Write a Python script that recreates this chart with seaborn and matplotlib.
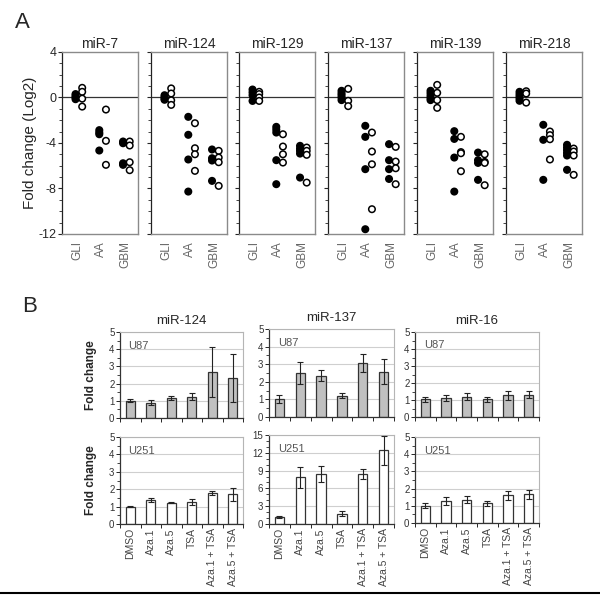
import numpy as np
import pandas as pd
import matplotlib
matplotlib.use('Agg')
import matplotlib.pyplot as plt
from matplotlib.lines import Line2D
from matplotlib.ticker import MultipleLocator
import seaborn as sns

# ---- panel A data (log2 fold change), lists ordered GLI, AA, GBM ----
groups = ['GLI', 'AA', 'GBM']
mirs_a = ['miR-7', 'miR-124', 'miR-129', 'miR-137', 'miR-139', 'miR-218']

mir7_filled = [[0.3, 0.15, 0.0, -0.15], [-2.87, -3.08, -3.23, -4.66], [-3.87, -4.02, -5.78, -5.92]]
mir7_open = [[0.85, 0.5, -0.1, -0.8], [-1.06, -3.81, -5.92], [-3.87, -4.22, -5.69, -6.39]]
mir124_filled = [[0.2, 0.05, -0.1, -0.2], [-1.7, -3.28, -5.45, -8.27], [-4.57, -5.34, -5.54, -7.33]]
mir124_open = [[0.8, 0.35, -0.25, -0.65], [-2.26, -4.46, -4.99, -6.45], [-4.69, -5.28, -5.69, -7.77]]
mir129_filled = [[0.7, 0.45, 0.2, -0.3], [-2.58, -2.82, -3.08, -5.51, -7.62], [-4.25, -4.49, -4.69, -4.93, -7.04]]
mir129_open = [[0.5, 0.3, 0.0, -0.3], [-3.23, -4.31, -4.99, -5.72], [-4.4, -4.69, -5.04, -7.48]]
mir137_filled = [[0.59, 0.38, 0.2, 0.0, -0.23], [-2.49, -3.46, -6.3, -11.58], [-4.1, -5.51, -6.3, -7.16]]
mir137_open = [[0.76, -0.29, -0.76], [-3.08, -4.75, -5.87, -9.82], [-4.34, -5.63, -6.22, -7.62]]
mir139_filled = [[0.59, 0.38, 0.15, -0.06, -0.23], [-2.96, -3.64, -5.28, -8.27], [-4.84, -5.51, -5.75, -7.24]]
mir139_open = [[1.11, 0.41, -0.23, -0.91], [-3.46, -4.8, -4.9, -6.48], [-4.99, -5.66, -5.75, -7.71]]
mir218_filled = [[0.5, 0.29, 0.09, -0.09, -0.29], [-2.4, -3.72, -7.24], [-4.16, -4.4, -4.63, -4.87, -5.1, -6.36]]
mir218_open = [[0.55, 0.35, -0.45], [-2.99, -3.31, -3.67, -5.45], [-4.49, -4.75, -5.1, -6.8]]

filled_a = [mir7_filled, mir124_filled, mir129_filled, mir137_filled, mir139_filled, mir218_filled]
open_a = [mir7_open, mir124_open, mir129_open, mir137_open, mir139_open, mir218_open]

# ---- panel B data (fold change, mean and error) ----
treatments = ['DMSO', 'Aza.1', 'Aza.5', 'TSA', 'Aza.1 + TSA', 'Aza.5 + TSA']
mir124_u87 = [1.0, 0.9, 1.15, 1.25, 2.65, 2.35]
mir124_u87_err = [0.08, 0.12, 0.12, 0.18, 1.45, 1.4]
mir124_u251 = [1.0, 1.38, 1.23, 1.24, 1.77, 1.71]
mir124_u251_err = [0.05, 0.1, 0.05, 0.17, 0.12, 0.38]
mir137_u87 = [1.04, 2.48, 2.35, 1.22, 3.05, 2.58]
mir137_u87_err = [0.22, 0.62, 0.32, 0.13, 0.52, 0.7]
mir137_u251 = [1.15, 7.85, 8.45, 1.75, 8.5, 12.4]
mir137_u251_err = [0.2, 1.7, 1.4, 0.4, 0.85, 2.5]
mir16_u87 = [1.03, 1.13, 1.2, 1.05, 1.27, 1.32]
mir16_u87_err = [0.15, 0.18, 0.22, 0.15, 0.25, 0.23]
mir16_u251 = [1.0, 1.27, 1.35, 1.15, 1.6, 1.66]
mir16_u251_err = [0.15, 0.22, 0.2, 0.15, 0.25, 0.27]

sns.set_style('ticks')
plt.rcParams['font.family'] = ['Liberation Sans', 'DejaVu Sans']
plt.rcParams['axes.unicode_minus'] = False

W, H = 600, 597
fig = plt.figure(figsize=(6, 5.97), dpi=100)


def add_box(l, t, r, b):
    return fig.add_axes([l / W, 1 - b / H, (r - l) / W, (b - t) / H])


# ---------------- panel A ----------------
fig.text(22 / W, 1 - 22 / H, 'A', fontsize=16, ha='center', va='center')
lefts = [62, 151, 239, 328, 417, 506]
off = {'filled': -0.08, 'open': 0.2}
for i, name in enumerate(mirs_a):
    ax = add_box(lefts[i], 52, lefts[i] + 76, 234)
    rows = []
    for kind, data in (('filled', filled_a[i]), ('open', open_a[i])):
        for g, vals in zip(groups, data):
            for v in vals:
                rows.append({'group': g, 'kind': kind, 'value': v})
    df = pd.DataFrame(rows)
    df['x'] = df['group'].map({g: k for k, g in enumerate(groups)}) + df['kind'].map(off)
    ax.axhline(0, color='#333333', lw=0.9, zorder=1)
    sns.scatterplot(data=df, x='x', y='value', hue='kind', palette={'filled': 'black', 'open': 'white'},
                    edgecolor='black', linewidth=1.1, s=22, legend=False, ax=ax, zorder=3)
    ax.set_xlim(-0.65, 2.55)
    ax.set_ylim(-12, 4)
    ax.set_xticks(range(3))
    ax.set_xticklabels(groups, rotation=90, fontsize=8.5, color='#666666')
    ax.tick_params(axis='x', length=0, pad=5)
    ax.yaxis.set_major_locator(MultipleLocator(4))
    ax.yaxis.set_minor_locator(MultipleLocator(1))
    ax.tick_params(axis='y', which='major', length=3, width=0.8, direction='out', labelsize=9, pad=1)
    ax.tick_params(axis='y', which='minor', length=2, width=0.6, direction='out')
    ax.set_xlabel('')
    ax.set_ylabel('')
    for s in ('top', 'right', 'bottom'):
        ax.spines[s].set_color('#8a8a8a')
        ax.spines[s].set_linewidth(1.0)
    ax.spines['left'].set_color('#222222')
    ax.spines['left'].set_linewidth(0.9)
    ax.set_title(name, fontsize=10, pad=3)
    if i == 0:
        ax.set_ylabel('Fold change (Log2)', fontsize=11)
        ax.yaxis.set_label_coords(-0.33, 0.5)
    else:
        ax.set_yticklabels([])

# ---------------- panel B ----------------
fig.text(30 / W, 1 - 307 / H, 'B', fontsize=16, ha='center', va='center')

cols = [
    ('miR-124', (120, 243), (332, 418), (437, 524), mir124_u87, mir124_u87_err, mir124_u251, mir124_u251_err, 5),
    ('miR-137', (269, 394), (329, 417), (435, 524), mir137_u87, mir137_u87_err, mir137_u251, mir137_u251_err, 15),
    ('miR-16', (415, 539), (332, 417), (437, 523), mir16_u87, mir16_u87_err, mir16_u251, mir16_u251_err, 5),
]


def bar_panel(ax, vals, errs, fill, ymax, cell, show_x):
    sns.barplot(x=treatments, y=vals, color=fill, saturation=1, width=0.45,
                edgecolor='#333333', linewidth=0.9, ax=ax, zorder=2)
    ax.errorbar(np.arange(len(treatments)), vals, yerr=errs, fmt='none', ecolor='#222222',
                elinewidth=0.8, capsize=2.5, capthick=0.8, zorder=3)
    ax.set_xlim(-0.5, len(treatments) - 0.5)
    ax.set_ylim(0, ymax)
    step = ymax / 5
    ax.yaxis.set_major_locator(MultipleLocator(step))
    ax.yaxis.set_minor_locator(MultipleLocator(step / 2 if ymax == 5 else 1))
    ax.grid(axis='y', color='#cfcfcf', lw=0.8, zorder=0)
    ax.set_axisbelow(True)
    ax.tick_params(axis='y', which='major', length=3, width=0.7, direction='out', labelsize=7,
                   labelcolor='#333333', pad=1)
    ax.tick_params(axis='y', which='minor', length=2, width=0.6, direction='out')
    ax.set_xticks(np.arange(len(treatments) + 1) - 0.5, minor=True)
    ax.tick_params(axis='x', which='minor', length=3, width=0.7, direction='out')
    ax.tick_params(axis='x', which='major', length=0, labelsize=7.5, labelcolor='#444444', pad=3)
    if show_x:
        ax.set_xticks(range(len(treatments)))
        ax.set_xticklabels(treatments, rotation=90)
    else:
        ax.set_xticklabels([])
    for s in ('top', 'right'):
        ax.spines[s].set_color('#b5b5b5')
        ax.spines[s].set_linewidth(0.8)
    for s in ('left', 'bottom'):
        ax.spines[s].set_color('#333333')
        ax.spines[s].set_linewidth(0.9)
    ax.text(0.07, 0.9, cell, transform=ax.transAxes, fontsize=8, color='#555555', va='top')
    ax.set_xlabel('')
    ax.set_ylabel('')


for j, (name, (l, r), (t1, b1), (t2, b2), v87, e87, v251, e251, ymax) in enumerate(cols):
    ax1 = add_box(l, t1, r, b1)
    bar_panel(ax1, v87, e87, '#c0c0c0', 5, 'U87', False)
    ax1.set_title(name, fontsize=9.5, pad=6)
    ax2 = add_box(l, t2, r, b2)
    bar_panel(ax2, v251, e251, 'white', ymax, 'U251', True)
    if j == 0:
        for a in (ax1, ax2):
            a.set_ylabel('Fold change', fontsize=8.5, fontweight='bold')
            a.yaxis.set_label_coords(-0.19, 0.5)

fig.add_artist(Line2D([0, 1], [1 - 593 / H, 1 - 593 / H], transform=fig.transFigure, color='black', lw=1.5))

fig.savefig('out.png', dpi=100)
